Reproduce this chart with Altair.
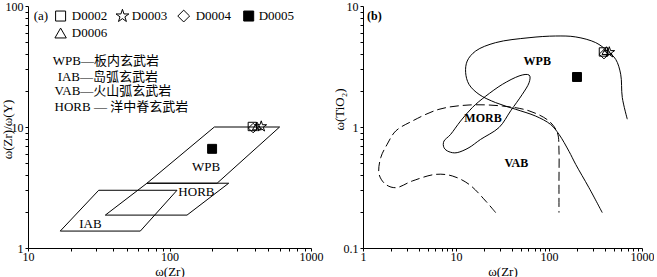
import altair as alt
import pandas as pd

SERIF = "Liberation Serif"
CJK = "Liberation Serif, Noto Sans CJK SC"

# ---------------- samples (both panels) ----------------
samples = ["D0002", "D0003", "D0004", "D0005", "D0006"]
sample_zr = [385, 445, 390, 200, 415]
sample_zr_y = [10.1, 10.1, 9.8, 6.6, 10.2]
sample_tio2 = [4.17, 4.14, 4.0, 2.59, 4.28]
sample_size = [70, 70, 90, 80, 80]

STAR = ("M0,-1.35L0.303,-0.417L1.284,-0.417L0.49,0.159L0.794,1.092L0,0.516"
        "L-0.794,1.092L-0.49,0.159L-1.284,-0.417L-0.303,-0.417Z")
sample_shapes = ["square", STAR, "diamond", "square", "triangle-up"]
sample_fills = ["transparent", "transparent", "transparent", "black", "transparent"]

# key (legend) inside panel (a), in panel-(a) data units
key_sym_zr = [17.0, 46.5, 126.0, 362.8, 17.0]
key_sym_ratio = [82.6, 82.6, 82.6, 82.6, 59.8]
key_sym_size = [100, 100, 140, 100, 130]
key_lab_zr = [20.4, 54.1, 153.2, 427.0, 20.4]

# ---------------- panel (a): Zr/Y vs Zr ----------------
wpb_a_zr = [69.3, 217, 600, 207.5]
wpb_a_ratio = [3.43, 3.43, 10.0, 10.0]
horb_zr = [35.2, 133, 262, 69.3]
horb_ratio = [1.87, 1.87, 3.43, 3.43]
iab_zr = [16.9, 62.2, 113, 31.6]
iab_ratio = [1.38, 1.38, 3.0, 3.0]

labels_a = ["WPB", "HORB", "IAB"]
labels_a_zr = [181, 155, 27.6]
labels_a_ratio = [4.7, 2.92, 1.59]

note_text = ["WPB—板内玄武岩", "IAB—岛弧玄武岩", "VAB—火山弧玄武岩", "HORB — 洋中脊玄武岩"]
note_zr = [14.95, 16.2, 15.4, 15.4]
note_ratio = [35.1, 26.1, 19.9, 14.6]

tag_a = ["(a)"]
tag_a_zr = [10.97]
tag_a_ratio = [82.6]

xa_major = [10, 100, 1000]
ya_major = [1, 10, 100]
xa_ticks = [10, 20, 30, 40, 50, 60, 70, 80, 90, 100, 200, 300, 400, 500, 600, 700, 800, 900, 1000]
ya_ticks = [1, 2, 3, 4, 5, 6, 7, 8, 9, 10, 20, 30, 40, 50, 60, 70, 80, 90, 100]

# ---------------- panel (b): TiO2 vs Zr ----------------
wpb_b_zr = [695, 614, 590, 522, 424, 318, 194, 118, 61, 26.7, 16.3, 13.2, 12.7, 13.8,
            17.7, 26.7, 43.9, 72, 104, 128, 164, 194, 269, 374]
wpb_b_tio2 = [1.16, 1.75, 2.73, 3.62, 4.25, 4.98, 5.55, 5.65, 5.47, 4.98, 4.25, 3.51, 2.81,
              2.25, 1.86, 1.59, 1.40, 1.23, 1.05, 0.87, 0.63, 0.49, 0.315, 0.196]

morb_zr = [61, 47.6, 31.5, 20.9, 15.0, 11.2, 8.77, 7.43, 7.43, 8.4, 10.3, 13.8, 18.4, 29,
           38.7, 51.6, 61]
morb_tio2 = [2.69, 2.64, 2.25, 1.80, 1.45, 1.12, 0.87, 0.766, 0.675, 0.625, 0.614, 0.675,
             0.79, 0.99, 1.36, 1.86, 2.32]

vab_zr = [26.7, 20.9, 13.8, 9.12, 6.05, 3.39, 2.25, 1.75, 1.49, 1.55, 1.82, 2.25, 3.39,
          6.56, 13.8, 31.5, 61, 100, 123, 128, 128, 128]
vab_tio2 = [0.196, 0.244, 0.336, 0.394, 0.406, 0.358, 0.315, 0.336, 0.406, 0.557, 0.72,
            0.927, 1.12, 1.40, 1.52, 1.49, 1.36, 1.12, 0.897, 0.634, 0.358, 0.196]

labels_b = ["WPB", "MORB", "VAB"]
labels_b_zr = [74.8, 19.5, 44.5]
labels_b_tio2 = [3.51, 1.18, 0.507]

tag_b = ["(b)"]
tag_b_zr = [1.104]
tag_b_tio2 = [8.26]

xb_major = [1, 10, 100, 1000]
yb_major = [0.1, 1, 10]
xb_ticks = [1, 2, 3, 4, 5, 6, 7, 8, 9, 10, 20, 30, 40, 50, 60, 70, 80, 90, 100,
            200, 300, 400, 500, 600, 700, 800, 900, 1000]
yb_ticks = [0.1, 0.2, 0.3, 0.4, 0.5, 0.6, 0.7, 0.8, 0.9, 1, 2, 3, 4, 5, 6, 7, 8, 9, 10]


# ---------------- helpers ----------------
def path_df(name, xs, ys):
    return pd.DataFrame({"grp": name, "x": xs, "y": ys, "seq": list(range(len(xs)))})


def main_axis(tick_values, major, title, orient, title_x, title_y, label_pad):
    return alt.Axis(values=tick_values, format="~g", orient=orient, domain=True,
                    domainColor="black", domainWidth=1, ticks=True, tickSize=3,
                    tickColor="black", tickWidth=1,
                    labels=True, labelFont=SERIF, labelFontSize=12, labelColor="black",
                    labelExpr="indexof(%s, datum.value) >= 0 ? datum.label : ''" % str(major),
                    labelPadding=label_pad, labelFlush=False, labelOverlap=False,
                    labelBound=False, grid=False,
                    title=title, titleFont=SERIF,
                    titleFontSize=13, titleFontWeight="normal", titleColor="black",
                    titleX=title_x, titleY=title_y, titleBaseline="middle",
                    titleAlign="center")


def line_layer(df, xs, ys, xax, yax, interp, dash=None, width=1.0):
    kw = dict(color="black", strokeWidth=width, interpolate=interp)
    if dash is not None:
        kw["strokeDash"] = dash
    return alt.Chart(df).mark_line(**kw).encode(
        x=alt.X("x:Q", scale=xs, axis=xax),
        y=alt.Y("y:Q", scale=ys, axis=yax),
        detail="grp:N",
        order="seq:Q",
    )


def text_layer(texts, xv, yv, xs, ys, xax, yax, align="center", size=13, weight="normal",
               font=SERIF):
    df = pd.DataFrame({"t": texts, "x": xv, "y": yv})
    return alt.Chart(df).mark_text(align=align, baseline="middle", fontSize=size,
                                   fontWeight=weight, font=font, color="black").encode(
        x=alt.X("x:Q", scale=xs, axis=xax),
        y=alt.Y("y:Q", scale=ys, axis=yax),
        text="t:N",
    )


shape_scale = alt.Scale(domain=samples, range=sample_shapes)
fill_scale = alt.Scale(domain=samples, range=sample_fills)


def points_layer(df, xcol, ycol, xs, ys, xax, yax):
    return alt.Chart(df).mark_point(filled=True, stroke="black", strokeWidth=1,
                                    opacity=1).encode(
        x=alt.X(xcol + ":Q", scale=xs, axis=xax),
        y=alt.Y(ycol + ":Q", scale=ys, axis=yax),
        shape=alt.Shape("sample:N", scale=shape_scale, legend=None),
        fill=alt.Fill("sample:N", scale=fill_scale, legend=None),
        size=alt.Size("size:Q", scale=None, legend=None),
    )


samples_df = pd.DataFrame({"sample": samples, "zr": sample_zr, "ratio": sample_zr_y,
                           "tio2": sample_tio2, "size": sample_size})
key_df = pd.DataFrame({"sample": samples, "zr": key_sym_zr, "ratio": key_sym_ratio,
                       "size": key_sym_size})

# ---------------- panel (a) ----------------
xa = alt.Scale(type="log", domain=[10, 1000], nice=False)
ya = alt.Scale(type="log", domain=[1, 100], nice=False)
xa_axis = main_axis(xa_ticks, xa_major, "ω(Zr)", "bottom", 141.5, 23, 0)
ya_axis = main_axis(ya_ticks, ya_major, "ω(Zr)/ω(Y)", "left", -21, 123, 2)

poly_a = pd.concat([
    path_df("WPB", wpb_a_zr, wpb_a_ratio),
    path_df("HORB", horb_zr, horb_ratio),
    path_df("IAB", iab_zr, iab_ratio),
])

panel_a = alt.layer(
    line_layer(poly_a, xa, ya, xa_axis, ya_axis, "linear-closed"),
    points_layer(samples_df, "zr", "ratio", xa, ya, xa_axis, ya_axis),
    points_layer(key_df, "zr", "ratio", xa, ya, xa_axis, ya_axis),
    text_layer(samples, key_lab_zr, key_sym_ratio, xa, ya, xa_axis, ya_axis, align="left"),
    text_layer(labels_a, labels_a_zr, labels_a_ratio, xa, ya, xa_axis, ya_axis),
    text_layer(note_text, note_zr, note_ratio, xa, ya, xa_axis, ya_axis, align="left", font=CJK),
    text_layer(tag_a, tag_a_zr, tag_a_ratio, xa, ya, xa_axis, ya_axis, align="left"),
).properties(width=283, height=242)

# ---------------- panel (b) ----------------
xb = alt.Scale(type="log", domain=[1, 1000], nice=False)
yb = alt.Scale(type="log", domain=[0.1, 10], nice=False)
xb_axis = main_axis(xb_ticks, xb_major, "ω(Zr)", "bottom", 139.5, 23, 0)
yb_axis = main_axis(yb_ticks, yb_major, "ω(TiO₂)", "left", -24, 103, 2)

panel_b = alt.layer(
    line_layer(path_df("WPB", wpb_b_zr, wpb_b_tio2), xb, yb, xb_axis, yb_axis, "catmull-rom"),
    line_layer(path_df("MORB", morb_zr, morb_tio2), xb, yb, xb_axis, yb_axis, "cardinal-closed"),
    line_layer(path_df("VAB", vab_zr, vab_tio2), xb, yb, xb_axis, yb_axis, "catmull-rom",
               dash=[9, 4]),
    points_layer(samples_df, "zr", "tio2", xb, yb, xb_axis, yb_axis),
    text_layer(labels_b, labels_b_zr, labels_b_tio2, xb, yb, xb_axis, yb_axis,
               size=12, weight="bold"),
    text_layer(tag_b, tag_b_zr, tag_b_tio2, xb, yb, xb_axis, yb_axis,
               align="left", size=12, weight="bold"),
).properties(width=279, height=242)

chart = alt.hconcat(panel_a, panel_b, spacing=52, bounds="flush").resolve_scale(
    shape="independent", fill="independent"
).configure_view(stroke=None).properties(
    padding={"left": 1, "top": 0, "right": 0, "bottom": 0},
    background="white",
)

chart.save("out.html", embed_options={"renderer": "svg", "actions": False})
